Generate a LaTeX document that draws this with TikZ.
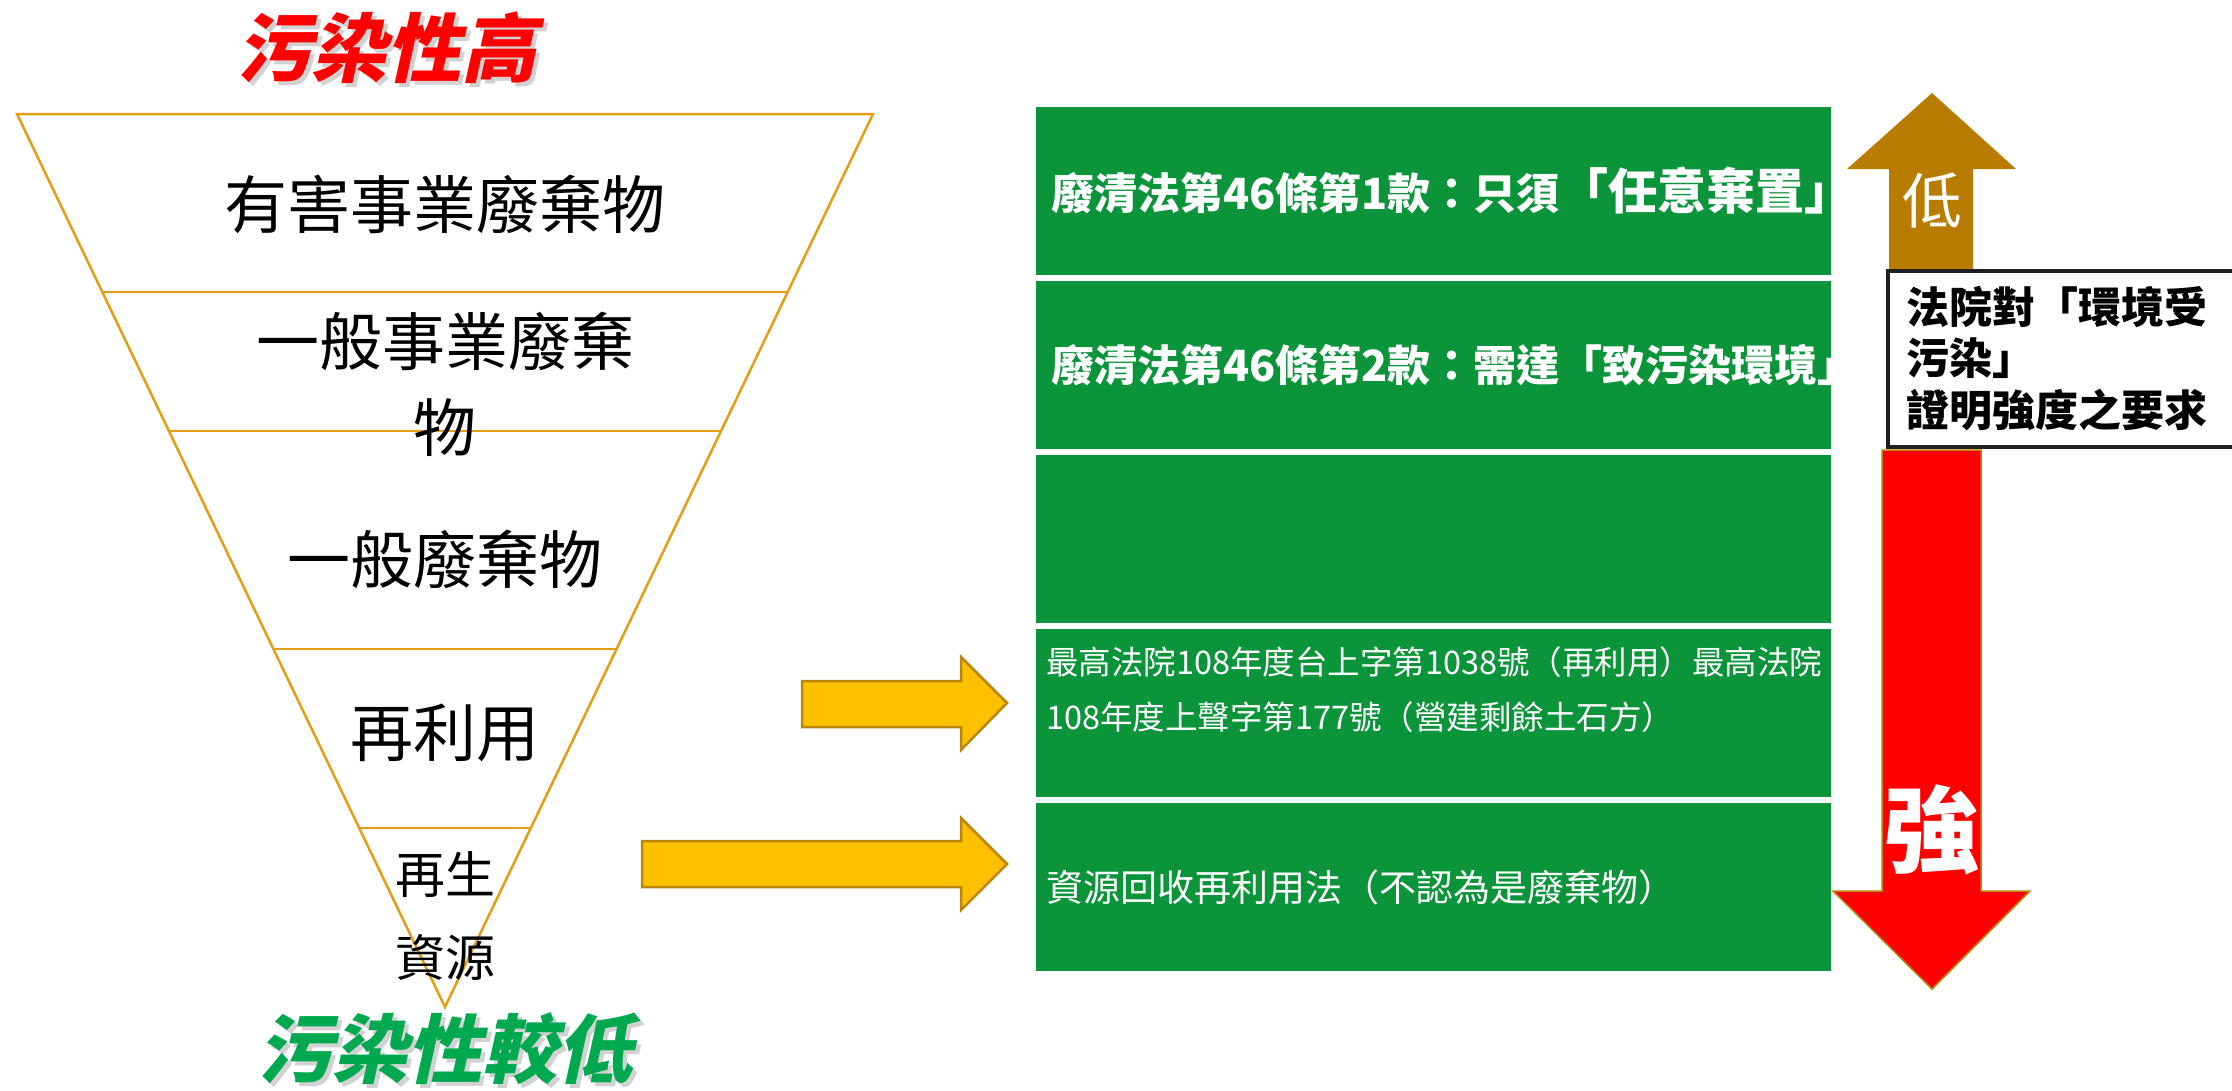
\documentclass[tikz,border=0pt]{standalone}
\usepackage{fontspec}
\setmainfont{Noto Sans CJK TC}
\newfontfamily\cjkslant[FakeSlant=0.22]{Noto Sans CJK TC}
\definecolor{boxgreen}{RGB}{11,148,58}
\definecolor{trapline}{RGB}{226,158,20}
\definecolor{arrowyellow}{RGB}{255,192,0}
\definecolor{arrowedge}{RGB}{186,134,10}
\definecolor{lowbrown}{RGB}{184,124,0}
\definecolor{titlegreen}{RGB}{0,168,80}
\definecolor{titlered}{RGB}{255,0,0}
\begin{document}
\begin{tikzpicture}[x=1pt,y=-1pt,
  trapedge/.style={draw=trapline,line width=2.5pt},
  layertext/.style={inner sep=0pt,font=\fontsize{63}{63}\selectfont},
  smalllayer/.style={inner sep=0pt,font=\fontsize{50}{50}\selectfont},
  titletext/.style={inner sep=0pt,font=\cjkslant\bfseries\fontsize{75}{75}\selectfont},
  greenbox/.style={fill=boxgreen,minimum width=795pt,minimum height=168pt,inner sep=0pt},
  boxtext/.style={inner sep=0pt,anchor=west,text=white},
  yellowarrow/.style={fill=arrowyellow,draw=arrowedge,line width=2.5pt,line join=miter},
]
\useasboundingbox (0,0) rectangle (2232,1090);

% titles
\node[titletext,text=black!35,opacity=0.5] (titlehighshadow) at (390,52) {污染性高};
\node[titletext,text=titlered] (titlehigh) at (386,48) {污染性高};
\node[titletext,text=black!35,opacity=0.5] (titlelowshadow) at (449,1053) {污染性較低};
\node[titletext,text=titlegreen] (titlelow) at (445,1049) {污染性較低};

% inverted pyramid
\coordinate (tl) at (17,114);
\coordinate (tr) at (873,114);
\coordinate (apex) at (445,1007);
\draw[trapedge,line join=miter] (tl) -- (tr) -- (apex) -- cycle;
\coordinate (l1a) at (102.3,292); \coordinate (l1b) at (787.7,292);
\coordinate (l2a) at (168.9,431); \coordinate (l2b) at (721.1,431);
\coordinate (l3a) at (273.4,649); \coordinate (l3b) at (616.6,649);
\coordinate (l4a) at (359.2,828); \coordinate (l4b) at (530.8,828);
\draw[trapedge] (l1a) -- (l1b);
\draw[trapedge] (l2a) -- (l2b);
\draw[trapedge] (l3a) -- (l3b);
\draw[trapedge] (l4a) -- (l4b);

\node[layertext] (hazard) at (445,204) {有害事業廢棄物};
\node[layertext] (general1) at (445,341) {一般事業廢棄};
\node[layertext] (general2) at (445,428) {物};
\node[layertext] (generalwaste) at (445,559) {一般廢棄物};
\node[layertext] (reuse) at (445,733) {再利用};
\node[smalllayer] (recycle1) at (445,875) {再生};
\node[smalllayer] (recycle2) at (445,957) {資源};

% green boxes
\node[greenbox] (box1) at (1433.5,191) {};
\node[greenbox] (box2) at (1433.5,365) {};
\node[greenbox] (box3) at (1433.5,539) {};
\node[greenbox] (box4) at (1433.5,713) {};
\node[greenbox] (box5) at (1433.5,887) {};

\node[boxtext,font=\bfseries\fontsize{43}{43}\selectfont] (law1) at (1051,191) {廢清法第46條第1款：只須{\fontsize{49}{49}\selectfont「任意棄置」}};
\node[boxtext,font=\bfseries\fontsize{43}{43}\selectfont] (law2) at (1051,365) {廢清法第46條第2款：需達「致污染環境」};
\node[boxtext,font=\fontsize{32.5}{55}\selectfont,align=left] (court) at (1046,689.5) {最高法院108年度台上字第1038號（再利用）最高法院\\108年度上聲字第177號（營建剩餘土石方）};
\node[boxtext,font=\fontsize{37}{37}\selectfont] (recyclelaw) at (1046,887) {資源回收再利用法（不認為是廢棄物）};

% yellow block arrows
\draw[yellowarrow] (802,681) -- (961,681) -- (961,657) -- (1007,703) -- (961,750) -- (961,727) -- (802,727) -- cycle;
\draw[yellowarrow] (642,841) -- (961,841) -- (961,818) -- (1007,864) -- (961,910) -- (961,887) -- (642,887) -- cycle;

% brown up arrow
\fill[lowbrown] (1889,270) -- (1889,169) -- (1847,169) -- (1932,93) -- (2016,169) -- (1973,169) -- (1973,270) -- cycle;
\node[inner sep=0pt,text=white,font=\fontsize{60}{60}\selectfont] (low) at (1932,200) {低};

% red down arrow
\draw[fill=red,draw=arrowedge,line width=1.5pt,line join=miter] (1882,450) -- (1981,450) -- (1981,891) -- (2030,891) -- (1932,989) -- (1833,891) -- (1882,891) -- cycle;
\node[inner sep=0pt,text=white,font=\bfseries\fontsize{95}{95}\selectfont] (strong) at (1932,830) {強};

% text box
\draw[line width=4pt,draw=black!88,fill=white] (2250,271) -- (1888,271) -- (1888,447) -- (2250,447);
\node[inner sep=0pt,anchor=north west,align=left,font=\bfseries\fontsize{43}{51.5}\selectfont] (courtreq) at (1906,286) {法院對「環境受\\污染」\\證明強度之要求};
\end{tikzpicture}
\end{document}
